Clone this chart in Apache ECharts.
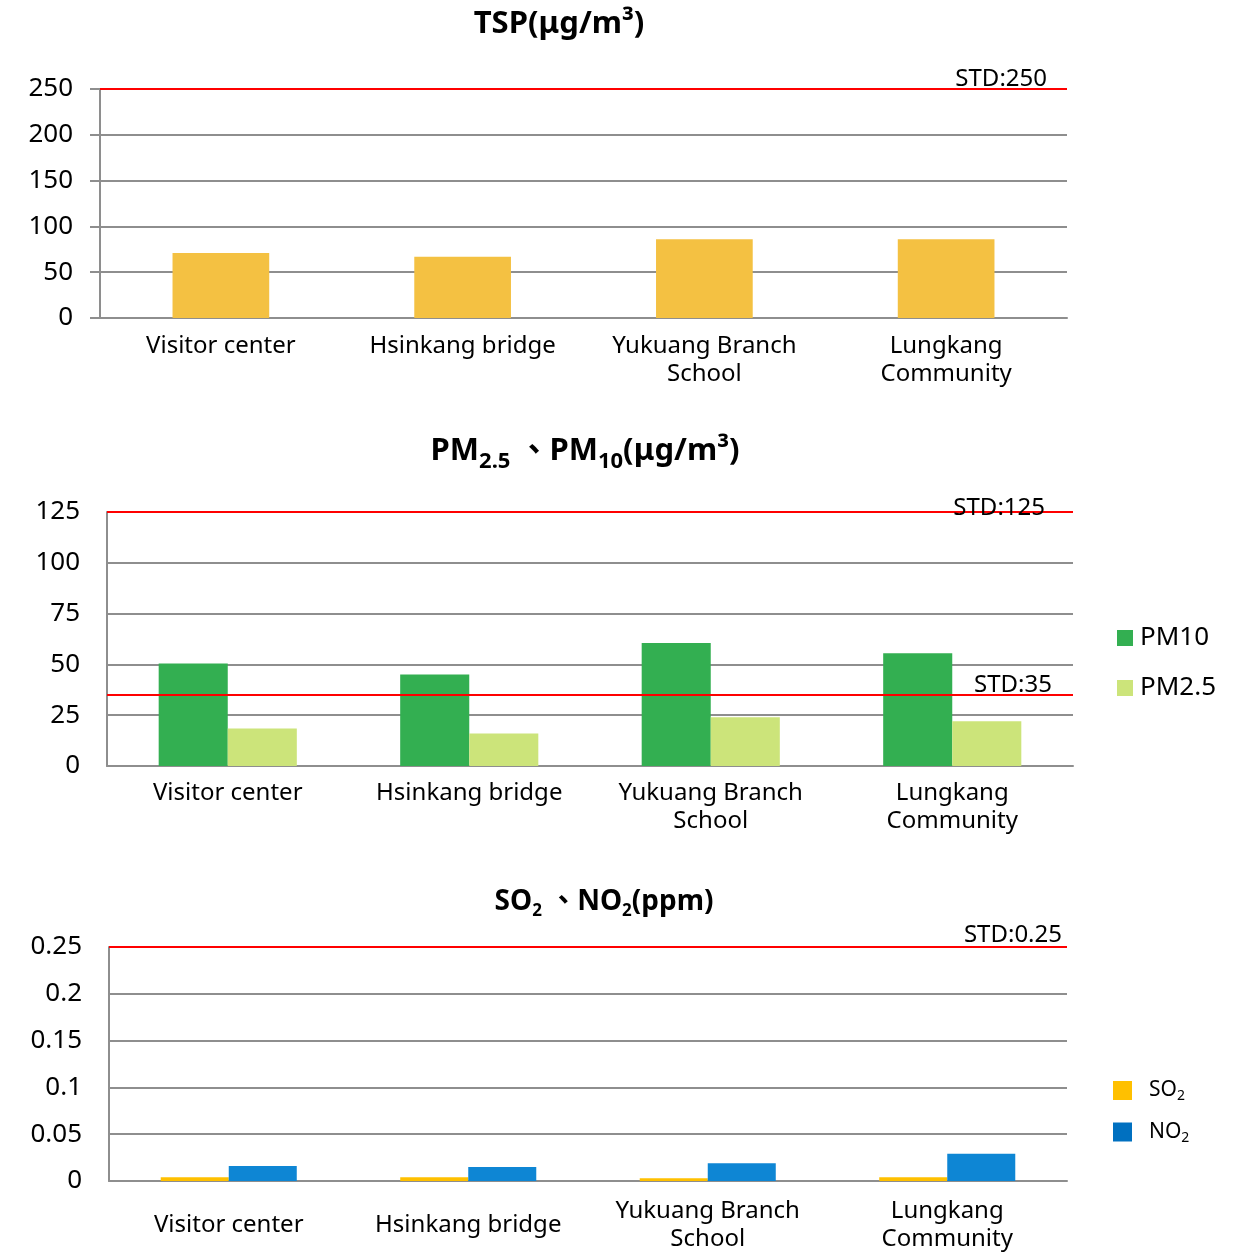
<!DOCTYPE html>
<html>
<head>
<meta charset="utf-8">
<script src="https://cdn.jsdelivr.net/npm/echarts@6/dist/echarts.min.js"></script>
<style>
  html, body { margin: 0; padding: 0; background: #fff; }
  #chart { width: 1247px; height: 1252px; }
</style>
</head>
<body>
<div id="chart"></div>
<script>
// Monitoring sites
const sites = ['Visitor center', 'Hsinkang bridge', 'Yukuang Branch\nSchool', 'Lungkang\nCommunity'];

// TSP (μg/m³)
const tsp = [71, 67, 86, 86];
const tspStd = 250;
const tspTicks = { min: 0, max: 250, interval: 50 };

// PM10 / PM2.5 (μg/m³)
const pm10 = [50.5, 45, 60.5, 55.5];
const pm25 = [18.5, 16, 24, 22];
const pm10Std = 125;
const pm25Std = 35;
const pmTicks = { min: 0, max: 125, interval: 25 };

// SO2 / NO2 (ppm)
const so2 = [0.004, 0.004, 0.003, 0.004];
const no2 = [0.016, 0.015, 0.019, 0.029];
const gasStd = 0.25;
const gasTicks = { min: 0, max: 0.25, interval: 0.05 };

const FONT = '"Noto Sans", "Noto Sans CJK TC", sans-serif';
const GRID_GRAY = '#8e8e8e';

function valueAxis(gridIndex, ticks, showTick) {
  return {
    type: 'value', gridIndex,
    min: ticks.min, max: ticks.max, interval: ticks.interval,
    axisLine: { show: true, lineStyle: { color: GRID_GRAY, width: 2 } },
    axisTick: { show: showTick, length: 10, lineStyle: { color: GRID_GRAY, width: 2 } },
    splitLine: { show: true, lineStyle: { color: GRID_GRAY, width: 2 } },
    axisLabel: { color: '#000', fontSize: 26, fontFamily: FONT, margin: 27 }
  };
}

function categoryAxis(gridIndex, margin, centered) {
  const label = { color: '#000', fontSize: 24, fontFamily: FONT, margin, lineHeight: 28, interval: 0 };
  if (centered) {
    // single-line names sit at the middle of the two-line block
    label.formatter = v => v.indexOf('\n') < 0 ? '{one|' + v + '}' : v;
    label.rich = { one: { fontSize: 24, fontFamily: FONT, color: '#000', lineHeight: 56 } };
  }
  return {
    type: 'category', gridIndex, data: sites,
    axisLine: { show: true, lineStyle: { color: GRID_GRAY, width: 2 } },
    axisTick: { show: false },
    axisLabel: label
  };
}

function stdLine(value, text, dist) {
  return {
    yAxis: value,
    label: {
      show: true, position: 'insideEndTop', formatter: text,
      color: '#000', fontSize: 24, fontFamily: FONT, distance: dist
    }
  };
}

const markLineBase = {
  symbol: 'none', silent: true,
  lineStyle: { color: '#ff0000', width: 2, type: 'solid' }
};

const titleRich = {
  b: { fontSize: 31, fontWeight: 'bold', fontFamily: FONT, color: '#000' },
  sub: { fontSize: 22, fontWeight: 'bold', fontFamily: FONT, color: '#000', padding: [22, 0, 0, 0] },
  b3: { fontSize: 28, fontWeight: 'bold', fontFamily: FONT, color: '#000' },
  sub3: { fontSize: 17, fontWeight: 'bold', fontFamily: FONT, color: '#000', padding: [18, 0, 0, 0] }
};

const option = {
  backgroundColor: '#fff',
  animation: false,
  title: [
    { text: '{b|TSP(μg/m³)}', left: 554, top: 4, textAlign: 'center', textStyle: { rich: titleRich } },
    { text: '{b|PM}{sub|2.5}{b| 、PM}{sub|10}{b|(μg/m³)}', left: 580, top: 424, textAlign: 'center', textStyle: { rich: titleRich } },
    { text: '{b3|SO}{sub3|2}{b3| 、NO}{sub3|2}{b3|(ppm)}', left: 599, top: 880, textAlign: 'center', textStyle: { rich: titleRich } }
  ],
  legend: [
    {
      orient: 'vertical', left: 1112, top: 620, itemWidth: 16, itemHeight: 16, itemGap: 24,
      icon: 'rect', data: ['PM10', 'PM2.5'],
      textStyle: { color: '#000', fontSize: 26, fontFamily: FONT, padding: [0, 0, 0, 2] }
    },
    {
      orient: 'vertical', left: 1108, top: 1075, itemWidth: 19, itemHeight: 19, itemGap: 18,
      icon: 'rect',
      data: [
        { name: 'SO2', itemStyle: { color: '#ffc000' } },
        { name: 'NO2', itemStyle: { color: '#0070c0' } }
      ],
      formatter: n => n.replace('2', '{s|2}'),
      textStyle: {
        color: '#000', fontSize: 21, fontFamily: FONT, padding: [0, 0, 0, 12],
        rich: { s: { fontSize: 14, fontFamily: FONT, color: '#000', padding: [12, 0, 0, 0] } }
      }
    }
  ],
  grid: [
    { left: 100, right: 180, top: 89, height: 229, outerBoundsMode: 'none' },
    { left: 107, right: 174, top: 512, height: 254, outerBoundsMode: 'none' },
    { left: 109, right: 180, top: 947, height: 234, outerBoundsMode: 'none' }
  ],
  xAxis: [
    categoryAxis(0, 14, false),
    categoryAxis(1, 13, false),
    categoryAxis(2, 16, true)
  ],
  yAxis: [
    valueAxis(0, tspTicks, true),
    valueAxis(1, pmTicks, false),
    valueAxis(2, gasTicks, false)
  ],
  series: [
    {
      name: 'TSP', type: 'bar', xAxisIndex: 0, yAxisIndex: 0, data: tsp,
      barWidth: '40%', itemStyle: { color: '#f4c142' },
      markLine: Object.assign({ data: [stdLine(tspStd, 'STD:250', [20, -2])] }, markLineBase)
    },
    {
      name: 'PM10', type: 'bar', xAxisIndex: 1, yAxisIndex: 1, data: pm10,
      barWidth: '28.6%', barGap: '0%', itemStyle: { color: '#33af51' }
    },
    {
      name: 'PM2.5', type: 'bar', xAxisIndex: 1, yAxisIndex: 1, data: pm25,
      barWidth: '28.6%', barGap: '0%', itemStyle: { color: '#cce47a' },
      z: 2,
      markLine: Object.assign({
        data: [stdLine(pm10Std, 'STD:125', [28, -8]), stdLine(pm25Std, 'STD:35', [21, -2])]
      }, markLineBase)
    },
    {
      name: 'SO2', type: 'bar', xAxisIndex: 2, yAxisIndex: 2, data: so2,
      barWidth: '28.4%', barGap: '0%', itemStyle: { color: '#ffc000' }
    },
    {
      name: 'NO2', type: 'bar', xAxisIndex: 2, yAxisIndex: 2, data: no2,
      barWidth: '28.4%', barGap: '0%', itemStyle: { color: '#0e86d4' },
      markLine: Object.assign({ data: [stdLine(gasStd, 'STD:0.25', [5, 0])] }, markLineBase)
    }
  ]
};

const chart = echarts.init(document.getElementById('chart'), null, { renderer: 'canvas' });
chart.setOption(option);
</script>
</body>
</html>
